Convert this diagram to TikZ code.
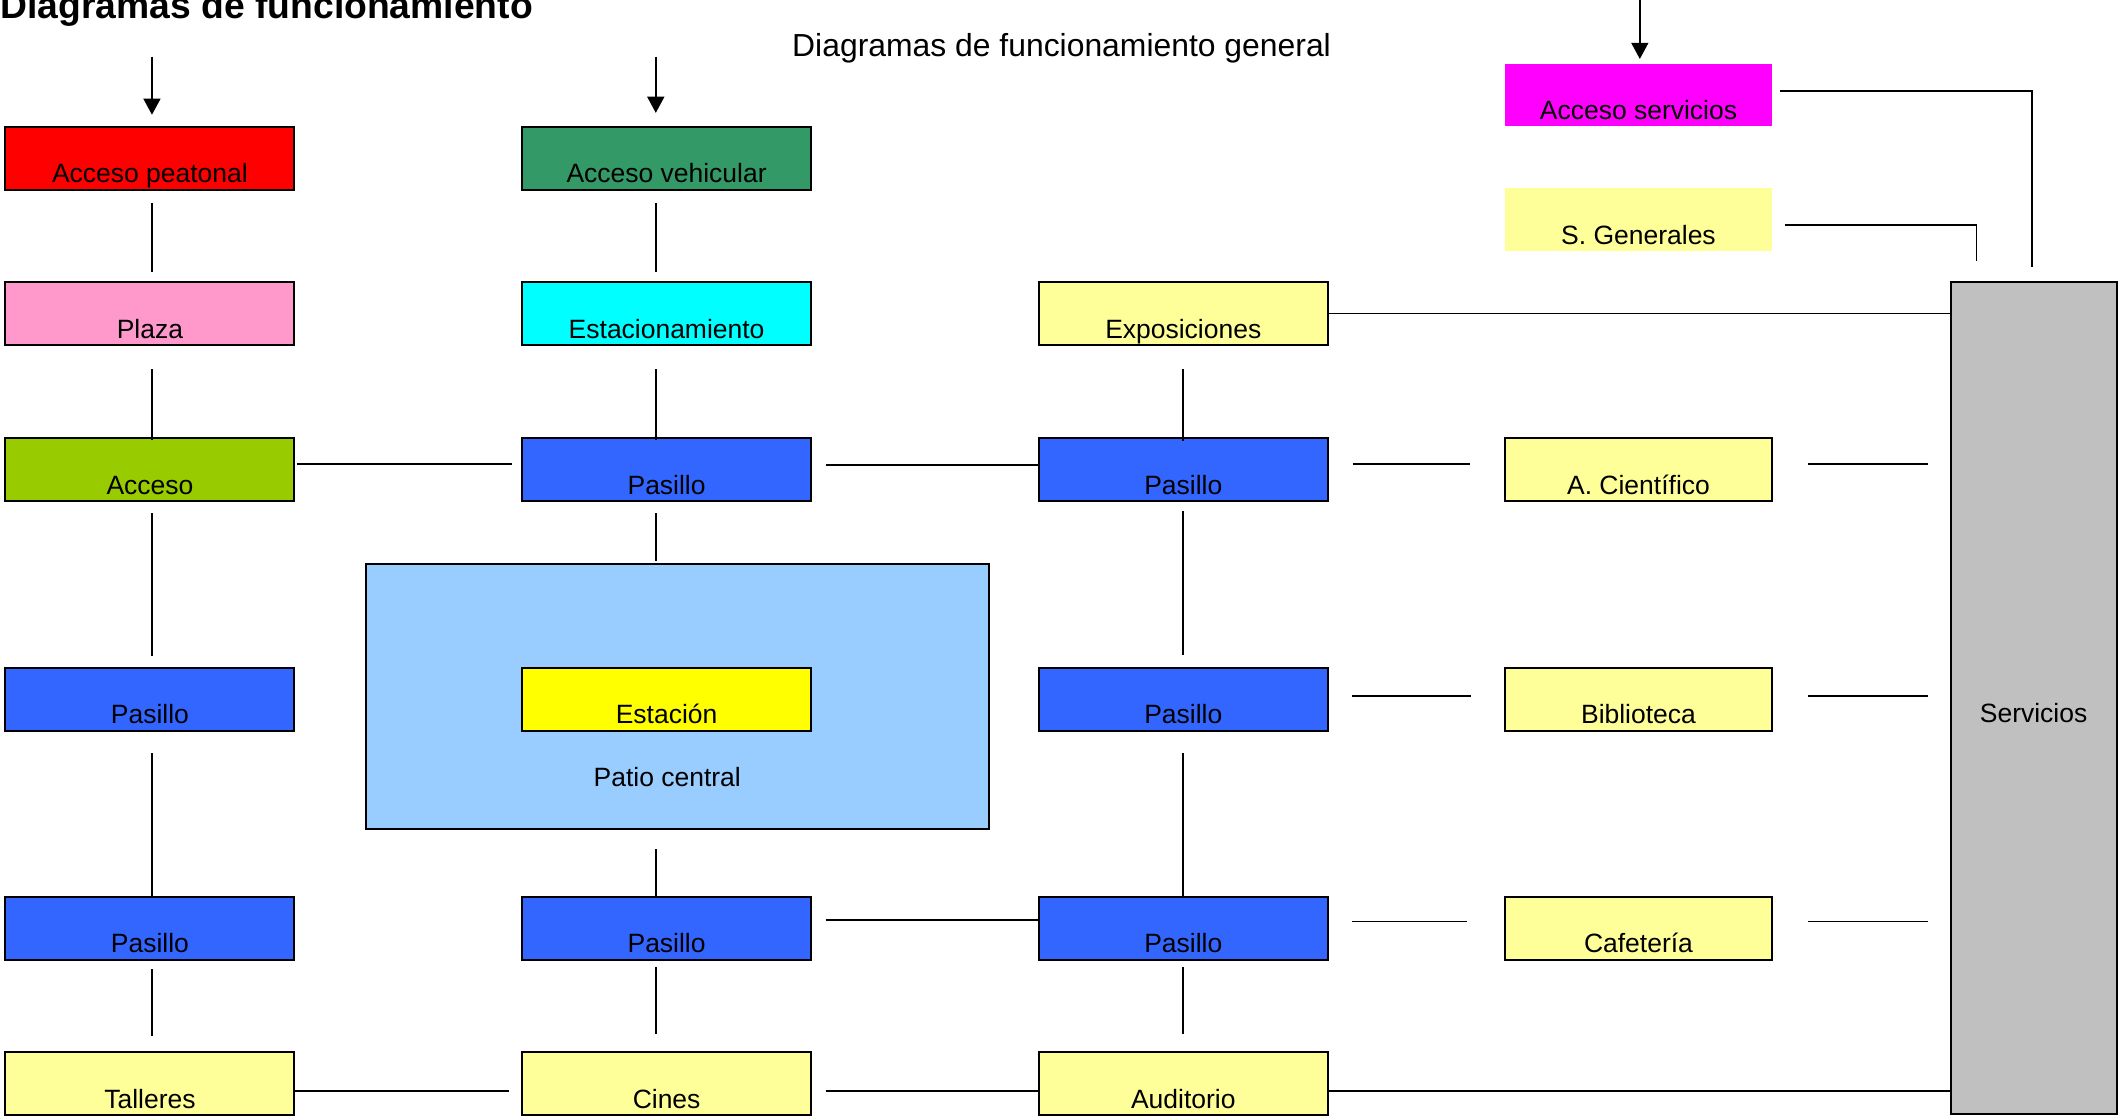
\documentclass[tikz,border=0pt]{standalone}
\usepackage{fontspec}
\setmainfont{Liberation Sans}
\usetikzlibrary{arrows.meta}
\definecolor{cRed}{HTML}{FF0000}
\definecolor{cGreen}{HTML}{339966}
\definecolor{cPink}{HTML}{FF99CC}
\definecolor{cCyan}{HTML}{00FFFF}
\definecolor{cLime}{HTML}{99CC00}
\definecolor{cBlue}{HTML}{3366FF}
\definecolor{cLtYellow}{HTML}{FFFF99}
\definecolor{cYellow}{HTML}{FFFF00}
\definecolor{cSky}{HTML}{99CCFF}
\definecolor{cMagenta}{HTML}{FF00FF}
\definecolor{cGray}{HTML}{C0C0C0}
\tikzset{
  box/.style={draw=black, line width=0.75pt, minimum width=107pt, minimum height=23.3pt,
    inner sep=0pt, text height=18.2pt, text depth=0pt, font=\fontsize{9.8}{11}\selectfont},
  wbox/.style={box, minimum width=99pt},
  plainbox/.style={box, draw=none, minimum width=99pt},
  conn/.style={line width=0.65pt},
  arr/.style={line width=0.65pt, -{Triangle[width=6.3pt,length=6pt]}},
}
\begin{document}
\begin{tikzpicture}[x=0.5pt,y=-0.5pt]
\useasboundingbox (0,0) rectangle (1568,827);

% titles
\node[anchor=base west, inner sep=0pt, font=\bfseries\fontsize{13.8}{16}\selectfont] (title) at (0,13.6) {Diagramas de funcionamiento};
\node[anchor=base, inner sep=0pt, font=\fontsize{11.8}{14}\selectfont] (subtitle) at (785.9,42) {Diagramas de funcionamiento general};

% patio central (background)
\node[box, fill=cSky, minimum width=230.5pt, minimum height=98.2pt, text height=66.9pt] (patio) at (501.5,515.5) {Patio central\kern7.5pt};

% column 1
\node[box, fill=cRed] (apeat) at (111,117) {Acceso peatonal};
\node[box, fill=cPink] (plaza) at (111,232.1) {Plaza};
\node[box, fill=cLime] (acceso) at (111,347.7) {Acceso};
\node[box, fill=cBlue] (pasA3) at (111,517.7) {Pasillo};
\node[box, fill=cBlue] (pasA4) at (111,687.3) {Pasillo};
\node[box, fill=cLtYellow] (talleres) at (111,802.2) {Talleres};

% column 2
\node[box, fill=cGreen] (aveh) at (493.5,117) {Acceso vehicular};
\node[box, fill=cCyan] (estac) at (493.5,232.1) {Estacionamiento};
\node[box, fill=cBlue] (pasB2) at (493.5,347.7) {Pasillo};
\node[box, fill=cYellow] (estacion) at (493.5,517.7) {Estación};
\node[box, fill=cBlue] (pasB4) at (493.5,687.3) {Pasillo};
\node[box, fill=cLtYellow] (cines) at (493.5,802.2) {Cines};

% column 3
\node[box, fill=cLtYellow] (expo) at (876,232.1) {Exposiciones};
\node[box, fill=cBlue] (pasC2) at (876,347.7) {Pasillo};
\node[box, fill=cBlue] (pasC3) at (876,517.7) {Pasillo};
\node[box, fill=cBlue] (pasC4) at (876,687.3) {Pasillo};
\node[box, fill=cLtYellow] (audit) at (876,802.2) {Auditorio};

% column 4
\node[plainbox, fill=cMagenta, minimum height=22.7pt] (aserv) at (1213,70.3) {Acceso servicios};
\node[plainbox, fill=cLtYellow] (sgen) at (1213,162.5) {S. Generales};
\node[wbox, fill=cLtYellow] (acient) at (1213,347.7) {A. Científico};
\node[wbox, fill=cLtYellow] (biblio) at (1213,517.7) {Biblioteca};
\node[wbox, fill=cLtYellow] (cafe) at (1213,687.3) {Cafetería};

% servicios
\node[box, fill=cGray, minimum width=61.5pt, minimum height=308.25pt] (serv) at (1505.5,516.75) {Servicios};

% entry arrows
\coordinate (inA) at (112.5,42);
\coordinate (inB) at (485.5,42);
\coordinate (inC) at (1214,0);
\draw[arr] (inA) -- ([xshift=0.75pt,yshift=4pt]apeat.north);
\draw[arr] (inB) -- ([xshift=-4pt,yshift=4.7pt]aveh.north);
\draw[arr] (inC) -- ([xshift=0.5pt,yshift=1.6pt]aserv.north);

% column 1 verticals
\draw[conn, shorten <=4.5pt, shorten >=3.4pt] ([xshift=0.75pt]apeat.south) -- ([xshift=0.75pt]plaza.north);
\draw[conn, shorten <=8.65pt, shorten >=-1.1pt] ([xshift=0.75pt]plaza.south) -- ([xshift=0.75pt]acceso.north);
\draw[conn, shorten <=4.15pt, shorten >=3.85pt] ([xshift=0.75pt]acceso.south) -- ([xshift=0.75pt]pasA3.north);
\draw[conn, shorten <=7.9pt] ([xshift=0.75pt]pasA3.south) -- ([xshift=0.75pt]pasA4.north);
\draw[conn, shorten <=3.15pt, shorten >=5.5pt] ([xshift=0.75pt]pasA4.south) -- ([xshift=0.75pt]talleres.north);

% column 2 verticals
\draw[conn, shorten <=4.5pt, shorten >=3.4pt] ([xshift=-4pt]aveh.south) -- ([xshift=-4pt]estac.north);
\draw[conn, shorten <=8.65pt, shorten >=-1.1pt] ([xshift=-4pt]estac.south) -- ([xshift=-4pt]pasB2.north);
\draw[conn, shorten <=4.15pt, shorten >=0.75pt] ([xshift=-4pt]pasB2.south) -- ([xshift=-4pt]pasB2.south |- patio.north);
\draw[conn, shorten <=7.15pt] ([xshift=-4pt]pasB4.north |- patio.south) -- ([xshift=-4pt]pasB4.north);
\draw[conn, shorten <=2.2pt, shorten >=6.4pt] ([xshift=-4pt]pasB4.south) -- ([xshift=-4pt]cines.north);

% column 3 verticals
\draw[conn, shorten <=8.65pt, shorten >=-1.35pt] (expo.south) -- (pasC2.north);
\draw[conn, shorten <=3.4pt, shorten >=4.45pt] (pasC2.south) -- (pasC3.north);
\draw[conn, shorten <=7.9pt] (pasC3.south) -- (pasC4.north);
\draw[conn, shorten <=2.2pt, shorten >=6.4pt] (pasC4.south) -- (audit.north);

% row 2 horizontals
\draw[conn, shorten <=0.5pt, shorten >=3.35pt] ([yshift=2.1pt]acceso.east) -- ([yshift=2.1pt]pasB2.west);
\draw[conn, shorten <=5pt] ([yshift=1.8pt]pasB2.east) -- ([yshift=1.8pt]pasC2.west);
\draw[conn, shorten <=8.85pt, shorten >=12.65pt] ([yshift=2.1pt]pasC2.east) -- ([yshift=2.1pt]acient.west);
\draw[conn, shorten <=13pt, shorten >=8.1pt] ([yshift=2.1pt]acient.east) -- ([yshift=2.1pt]acient.east -| serv.west);

% row 3 horizontals
\draw[conn, shorten <=8.7pt, shorten >=12pt] ([yshift=1.1pt]pasC3.east) -- ([yshift=1.1pt]biblio.west);
\draw[conn, shorten <=13pt, shorten >=8.1pt] ([yshift=1.1pt]biblio.east) -- ([yshift=1.1pt]biblio.east -| serv.west);

% row 4 horizontals
\draw[conn, shorten <=4.95pt] ([yshift=3.25pt]pasB4.east) -- ([yshift=3.25pt]pasC4.west);
\draw[conn, shorten <=8.6pt, shorten >=13.5pt] ([yshift=2.6pt]pasC4.east) -- ([yshift=2.6pt]cafe.west);
\draw[conn, shorten <=13pt, shorten >=8.1pt] ([yshift=2.6pt]cafe.east) -- ([yshift=2.6pt]cafe.east -| serv.west);

% row 5 horizontals
\draw[conn, shorten >=4.3pt] ([yshift=-2.6pt]talleres.east) -- ([yshift=-2.6pt]cines.west);
\draw[conn, shorten <=5pt] ([yshift=-2.6pt]cines.east) -- ([yshift=-2.6pt]audit.west);
\draw[conn] ([yshift=-2.6pt]audit.east) -- ([yshift=-2.6pt]audit.east -| serv.west);

% exposiciones to servicios
\draw[conn] (expo.east) -- (expo.east -| serv.west);

% top right connectors
\draw[conn, shorten <=4.25pt, shorten >=7.15pt] ([yshift=-2pt]sgen.east) -| ([xshift=-21.1pt]serv.north);
\draw[conn, shorten <=2.55pt, shorten >=5pt] ([yshift=1.6pt]aserv.east) -| ([xshift=-0.5pt]serv.north);
\end{tikzpicture}
\end{document}
